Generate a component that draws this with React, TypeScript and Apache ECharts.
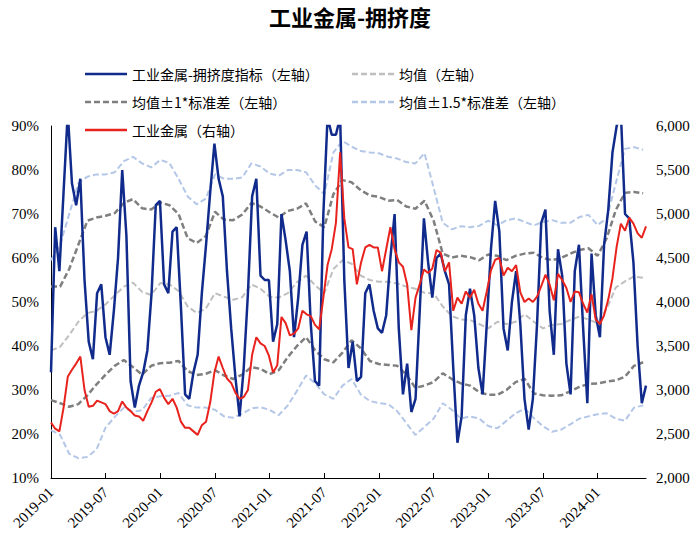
import React, { useEffect, useRef } from "react";
import * as echarts from "echarts";

// Tick labels of the date axis (one every six months from 2019-01)
const tickLabels = ["2019-01", "2019-07", "2020-01", "2020-07", "2021-01", "2021-07", "2022-01", "2022-07", "2023-01", "2023-07", "2024-01"];

// Bi-weekly observations starting 2019-01 (step in days)
const stepDays = 14;

// 工业金属-拥挤度指标 (%), left axis
const crowdIndex = [
  34, 67, 57, 75, 93, 77, 72, 78, 55, 41, 37, 52, 54, 42, 38, 48, 60, 80, 65, 32,
  26, 31, 34, 39, 52, 72, 73, 54, 52, 66, 67, 49, 29, 28, 34, 38, 52, 63, 75, 86,
  78, 74, 57, 44, 33, 24, 35, 52, 74, 78, 56, 55, 55, 41, 45, 70, 64, 57, 42, 51,
  63, 66, 45, 32, 31, 70, 92, 88, 88, 92, 55, 35, 41, 32, 33, 52, 54, 48, 44, 43,
  47, 60, 70, 44, 29, 36, 25, 28, 48, 69, 59, 51, 60, 61, 57, 54, 35, 18, 24, 47,
  53, 47, 35, 29, 45, 62, 73, 66, 44, 39, 50, 57, 45, 28, 21, 28, 45, 68, 71, 48,
  38, 62, 56, 36, 29, 57, 63, 44, 27, 61, 47, 42, 63, 71, 84, 90, 93, 70, 69, 59,
  40, 27, 31
];

// 工业金属 index, right axis
const metalIndex = [
  2630, 2560, 2530, 2800, 3150, 3230, 3300, 3380, 3000, 2810, 2820, 2880, 2860, 2840, 2760, 2730, 2760, 2870, 2800, 2760,
  2710, 2700, 2650, 2760, 2860, 2980, 3010, 2910, 2840, 2900, 2800, 2640, 2570, 2570, 2530, 2490, 2600, 2640, 2860, 3200,
  3380, 3250, 3130, 3080, 2970, 2900, 2920, 3000, 3400, 3600, 3530, 3500, 3390, 3200, 3280, 3830, 3760, 3620, 3640, 3700,
  3900, 3860, 3840, 3740, 3690, 4050, 4420, 4600, 4900, 5700, 4950, 4620, 4600, 4200, 4450, 4620, 4650, 4620, 4620, 4350,
  4600, 4850, 4600, 4450, 4400, 4200, 3680, 4050, 4200, 4370, 4330, 4380, 4590, 4560, 4350, 4450, 3900, 4050, 3980, 4120,
  4050, 4140, 3980, 3900, 4120, 4360, 4480, 4500, 4300, 4390, 4350, 4420, 4110, 4000, 4040, 4000, 4060, 4180, 4310, 4200,
  4020, 4320, 4250, 4160, 4000, 4120, 4110, 3980, 3880, 4090, 3800, 3750, 3850, 4030, 4270, 4630, 4890, 4810, 4960, 4890,
  4780, 4730, 4860
];

// Monthly rolling statistics (%), left axis, starting 2019-01
const meanLine = [
  39, 39.8, 42.5, 45.5, 47.5, 48, 49.5, 51.5, 53.5, 54.4, 52.3, 51.6, 54.3, 54, 52.5, 49, 47.5, 48.5, 52, 51.2,
  50.5, 51.1, 54, 53, 51.2, 51, 52, 54.5, 56, 53.8, 52, 57.5, 59.5, 58.7, 56, 55, 54.6, 54.6, 54.2, 53.5,
  53, 52.1, 52, 49, 46.8, 46, 45.9, 45, 44, 45.5, 45, 45.5, 47.2, 45.5, 44, 44.8, 45, 45.9, 46.7, 46,
  45.2, 48.5, 53.3, 54.7, 55.8, 55.5
];
const upper1 = [
  53.5, 53.5, 57.5, 63, 68.5, 69.2, 69.6, 70.2, 72.5, 73.4, 71.3, 71, 72.6, 72, 70, 64.5, 63.4, 65, 70.5, 68.7,
  68.6, 69.9, 72.5, 71.7, 70.4, 69.2, 70.7, 71.2, 72.4, 68.3, 67, 74.5, 77.7, 77.2, 75.4, 74.2, 73.9, 73, 73.2, 71.7,
  71.2, 73, 68.5, 61, 60.1, 60.5, 60.2, 59.5, 60.8, 60.5, 59.5, 60.5, 61, 61.2, 60, 59.5, 60, 61, 61.8, 62.2,
  60.5, 64.5, 70.9, 74.8, 75, 74.7
];
const lower1 = [
  27.7, 27, 26.2, 26.8, 28.8, 31.3, 33.5, 35.5, 36.8, 35.2, 33.5, 35.5, 36.1, 36.2, 36.6, 34.3, 33.4, 33.7, 34.5, 33.3,
  32.5, 33.5, 35.2, 34.8, 33.6, 34.5, 37.5, 40, 42, 39, 37, 36.3, 38.5, 41.3, 39.5, 36.6, 35.9, 35.7, 35.5, 33.5,
  30.5, 31, 31.8, 33.8, 32.5, 31.5, 31, 29.5, 28.9, 28.9, 30, 31.8, 32.5, 29.2, 28.8, 28.7, 28.8, 29.7, 30.7, 31.4,
  31.5, 31.9, 32.2, 33, 35.5, 36.3
];
const upper15 = [
  59.5, 63, 70, 77, 78.5, 79, 79, 79.5, 82, 83, 81.5, 80.6, 82.3, 81.6, 78, 74, 72.2, 73.5, 79, 78,
  78, 78.3, 81.5, 80.8, 79.2, 78.7, 80, 80, 79.5, 76.5, 74.5, 84, 86.6, 85.3, 84.3, 84, 83.8, 83, 82.6, 81.8,
  81.5, 83.8, 76, 68, 66.5, 67.2, 67, 67.3, 68.5, 67.4, 68.6, 69, 68.2, 67.4, 68.2, 68.6, 68, 68, 69.3, 69.8,
  67.5, 69, 77, 84.8, 85.2, 84.6
];
const lower15 = [
  20.9, 19.8, 15.5, 14.5, 14.8, 16.5, 21.5, 23.9, 26, 25, 25.4, 28.2, 28.6, 28.7, 29.3, 26.5, 26, 26, 25.5, 24,
  23.7, 24.6, 25.8, 26.1, 25.5, 24.3, 26.5, 29.8, 33.3, 31.5, 29, 28, 31, 32.5, 29, 27.5, 27, 26.8, 25.2, 22.5,
  19.8, 21.6, 23.5, 27, 25.5, 23.5, 24, 23.5, 21.8, 21.3, 23, 24.7, 25.8, 23.6, 21.8, 20.5, 21, 22.2, 23.5, 24,
  24.5, 24.7, 23.5, 23, 26, 26.5
];

const NAME_CROWD = "工业金属-拥挤度指标（左轴）";
const NAME_MEAN = "均值（左轴）";
const NAME_1SD = "均值±1*标准差（左轴）";
const NAME_15SD = "均值±1.5*标准差（左轴）";
const NAME_METAL = "工业金属（右轴）";

const DAYS_PER_MONTH = 365.25 / 12;
const biweekly = (arr: number[]) => arr.map((v, i) => [(i * stepDays) / DAYS_PER_MONTH, v]);
const monthly = (arr: number[]) => arr.map((v, j) => [j, v]);

const serif = "'Liberation Serif', 'Times New Roman', serif";
const cjk = "'Noto Sans CJK SC', sans-serif";

const DASH_ICON = "path://M0,0h6v2.5h-6zM9,0h6v2.5h-6zM18,0h6v2.5h-6zM27,0h6v2.5h-6zM36,0h6v2.5h-6z";
const SOLID_ICON = "path://M0,0h42v2.5h-42z";

export default function App() {
  const ref = useRef<HTMLDivElement>(null);
  useEffect(() => {
    if (!ref.current) return;
    const chart = echarts.init(ref.current, null, { renderer: "svg" });
    const lastX = ((crowdIndex.length - 1) * stepDays) / DAYS_PER_MONTH;
    const tickValues = tickLabels.map((_, k) => k * 6);
    const dashed = (name: string, data: number[], color: string, width: number) => ({
      name,
      type: "line",
      yAxisIndex: 0,
      data: monthly(data),
      symbol: "none",
      showSymbol: false,
      lineStyle: { color, width, type: [6, 3] },
      itemStyle: { color },
      z: 2,
    });
    const legendBase = {
      padding: 0,
      itemWidth: 42,
      itemHeight: 2.5,
      itemGap: 6,
      textStyle: { fontFamily: cjk, fontSize: 14, color: "#000" },
      selectedMode: false,
    };
    chart.setOption({
      animation: false,
      backgroundColor: "#fff",
      title: {
        text: "工业金属-拥挤度",
        left: "center",
        top: 0,
        textStyle: { fontFamily: cjk, fontSize: 22, fontWeight: "bold", color: "#000" },
      },
      legend: [
        { ...legendBase, data: [{ name: NAME_CROWD, icon: SOLID_ICON }], left: 85, top: 67 },
        { ...legendBase, data: [{ name: NAME_MEAN, icon: DASH_ICON }], left: 352, top: 67 },
        { ...legendBase, data: [{ name: NAME_1SD, icon: DASH_ICON }], left: 85, top: 95 },
        { ...legendBase, data: [{ name: NAME_15SD, icon: DASH_ICON }], left: 352, top: 95 },
        { ...legendBase, data: [{ name: NAME_METAL, icon: SOLID_ICON }], left: 85, top: 123 },
      ],
      grid: { left: 51, right: 54, top: 126, bottom: 70, containLabel: false },
      xAxis: {
        type: "value",
        min: 0,
        max: lastX,
        interval: 6,
        axisLine: { show: true, lineStyle: { color: "#000", width: 1 } },
        axisTick: { show: true, inside: true, length: 5, customValues: tickValues, lineStyle: { color: "#000" } },
        axisLabel: {
          customValues: tickValues,
          rotate: 45,
          margin: 12,
          fontFamily: serif,
          fontSize: 15,
          color: "#000",
          formatter: (v: number) => tickLabels[Math.round(v / 6)] ?? "",
        },
        splitLine: { show: false },
      },
      yAxis: [
        {
          type: "value",
          min: 10,
          max: 90,
          interval: 10,
          axisLine: { show: true, lineStyle: { color: "#000", width: 1 } },
          axisTick: { show: false },
          splitLine: { show: false },
          axisLabel: { formatter: "{value}%", fontFamily: serif, fontSize: 15, color: "#000", margin: 12 },
        },
        {
          type: "value",
          min: 2000,
          max: 6000,
          interval: 500,
          position: "right",
          axisLine: { show: false },
          axisTick: { show: false },
          splitLine: { show: false },
          axisLabel: { fontFamily: serif, fontSize: 15, color: "#000", margin: 10 },
        },
      ],
      series: [
        dashed(NAME_15SD, upper15, "#b4c7e7", 2),
        dashed(NAME_15SD, lower15, "#b4c7e7", 2),
        dashed(NAME_MEAN, meanLine, "#bfbfbf", 2),
        dashed(NAME_1SD, upper1, "#7f7f7f", 2.5),
        dashed(NAME_1SD, lower1, "#7f7f7f", 2.5),
        {
          name: NAME_CROWD,
          type: "line",
          yAxisIndex: 0,
          data: biweekly(crowdIndex),
          symbol: "none",
          showSymbol: false,
          lineStyle: { color: "#102b8c", width: 2.5 },
          itemStyle: { color: "#102b8c" },
          z: 3,
        },
        {
          name: NAME_METAL,
          type: "line",
          yAxisIndex: 1,
          data: biweekly(metalIndex),
          symbol: "none",
          showSymbol: false,
          lineStyle: { color: "#e8231d", width: 2 },
          itemStyle: { color: "#e8231d" },
          z: 4,
        },
      ],
    });
    return () => chart.dispose();
  }, []);
  return <div ref={ref} style={{ position: "fixed", left: 0, top: 0, width: 700, height: 548, background: "#fff" }} />;
}
